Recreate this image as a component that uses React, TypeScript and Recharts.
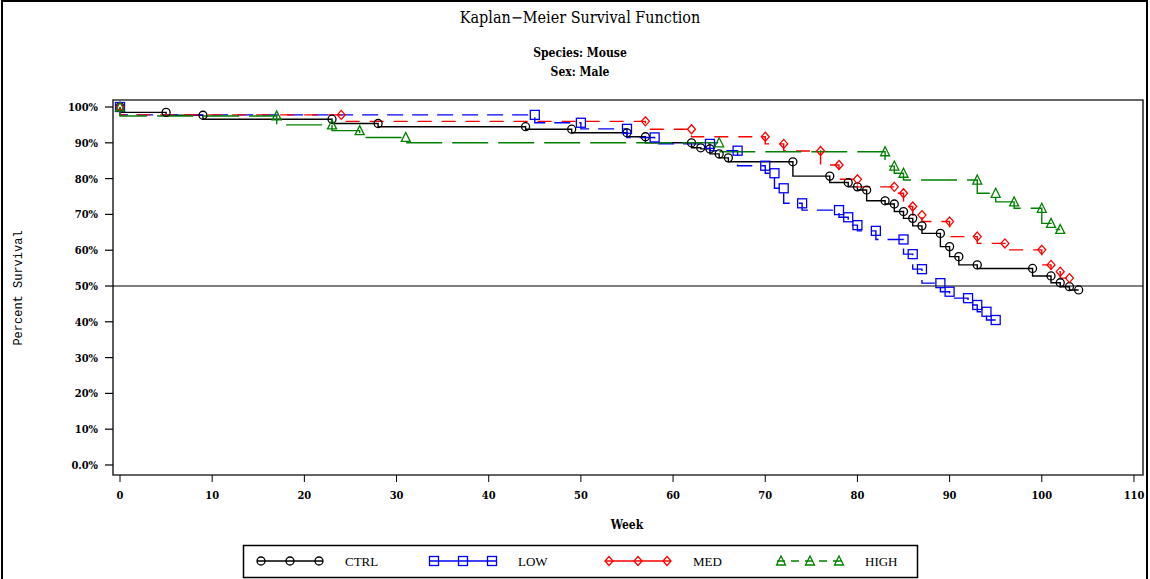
import React from 'react';
import { LineChart, Line, XAxis, YAxis, ReferenceLine, ReferenceArea } from 'recharts';

// Kaplan-Meier estimates (week, percent surviving)
const ctrlWeeks = [0, 5, 9, 23, 28, 44, 49, 55, 57, 62, 63, 64, 65, 66, 73, 77, 79, 80, 81, 83, 84, 85, 86, 87, 89, 90, 91, 93, 99, 101, 102, 103, 104];
const ctrlSurv = [100, 98.5, 97.7, 96.6, 95.4, 94.5, 93.8, 92.8, 91.7, 90.0, 88.6, 88.3, 86.9, 85.8, 84.7, 80.7, 78.9, 77.7, 76.8, 73.8, 72.9, 70.8, 68.9, 66.8, 64.7, 61.0, 58.2, 55.9, 54.9, 52.8, 50.9, 49.8, 48.9];

const lowWeeks = [0, 45, 50, 55, 58, 64, 67, 70, 71, 72, 74, 78, 79, 80, 82, 85, 86, 87, 89, 90, 92, 93, 94, 95];
const lowSurv = [100, 97.8, 95.6, 93.9, 91.5, 89.7, 87.8, 83.6, 81.5, 77.3, 73.1, 71.2, 69.2, 67.0, 65.4, 63.0, 58.9, 54.7, 50.8, 48.4, 46.6, 44.7, 42.8, 40.5];

const medWeeks = [0, 24, 57, 62, 70, 72, 76, 78, 80, 84, 85, 86, 87, 90, 93, 96, 100, 101, 102, 103];
const medSurv = [100, 97.8, 96.0, 93.8, 91.7, 89.7, 87.7, 83.8, 79.8, 77.7, 75.9, 72.2, 69.8, 68.0, 63.8, 61.9, 60.1, 55.9, 54.0, 52.2];

const highWeeks = [0, 17, 23, 26, 31, 65, 83, 84, 85, 93, 95, 97, 100, 101, 102];
const highSurv = [100, 97.5, 95.0, 93.4, 91.5, 90.0, 87.5, 83.5, 81.5, 79.6, 75.9, 73.5, 71.7, 67.5, 65.8];

const xTicks = [0, 10, 20, 30, 40, 50, 60, 70, 80, 90, 100, 110];
const yTicks = [0, 5, 10, 15, 20, 25, 30, 35, 40, 45, 50, 55, 60, 65, 70, 75, 80, 85, 90, 95, 100];

const X_DOMAIN = [-0.76, 110.98];
const Y_DOMAIN = [-2.8, 101.96];

const toRows = (weeks: number[], surv: number[]) => weeks.map((w, i) => ({ week: w, surv: surv[i] }));

const series = [
  { name: 'CTRL', data: toRows(ctrlWeeks, ctrlSurv), color: '#000000', dash: undefined, legendDash: undefined, kind: 'circle' },
  { name: 'LOW', data: toRows(lowWeeks, lowSurv), color: '#0000ff', dash: '16 9', legendDash: undefined, kind: 'square' },
  { name: 'MED', data: toRows(medWeeks, medSurv), color: '#ff0000', dash: '14 10', legendDash: undefined, kind: 'diamond' },
  { name: 'HIGH', data: toRows(highWeeks, highSurv), color: '#008000', dash: '36 10', legendDash: '8 6', kind: 'triangle' },
];

const tickFont = "'DejaVu Serif Condensed', 'DejaVu Serif', serif";

function Marker({ kind, cx, cy, color }: { kind: string; cx: number; cy: number; color: string }) {
  const sw = 1.3;
  if (kind === 'circle') return <circle cx={cx} cy={cy} r={4} fill="none" stroke={color} strokeWidth={sw} />;
  if (kind === 'square') return <rect x={cx - 4.5} y={cy - 4.5} width={9} height={9} fill="none" stroke={color} strokeWidth={sw} />;
  if (kind === 'diamond')
    return <polygon points={`${cx},${cy - 4.5} ${cx + 4},${cy} ${cx},${cy + 4.5} ${cx - 4},${cy}`} fill="none" stroke={color} strokeWidth={sw} />;
  return <polygon points={`${cx},${cy - 5} ${cx + 4.5},${cy + 4} ${cx - 4.5},${cy + 4}`} fill="none" stroke={color} strokeWidth={sw} />;
}

const YTick = (props: any) => {
  const { x, y, payload } = props;
  const v = payload.value;
  const major = v % 10 === 0;
  const label = v === 0 ? '0.0%' : `${v}%`;
  return (
    <g>
      <line x1={x - (major ? 8 : 4)} x2={x} y1={y} y2={y} stroke="#000" strokeWidth={1.2} />
      {major && (
        <text x={x - 15} y={y} dy={4} textAnchor="end" fontFamily={tickFont} fontWeight="bold" fontSize={11} fill="#000">
          {label}
        </text>
      )}
    </g>
  );
};

const XTick = (props: any) => {
  const { x, y, payload } = props;
  return (
    <text x={x} y={y} dy={11} textAnchor="middle" fontFamily={tickFont} fontWeight="bold" fontSize={11} fill="#000">
      {payload.value}
    </text>
  );
};

function LegendItem({ x, kind, color, dash, label }: any) {
  const cy = 561;
  const xs = [x + 4, x + 33, x + 62];
  return (
    <g>
      <line x1={x} x2={x + 66} y1={cy} y2={cy} stroke={color} strokeWidth={1.3} strokeDasharray={dash} />
      {xs.map((mx) => (
        <Marker key={mx} kind={kind} cx={mx} cy={cy} color={color} />
      ))}
      <text x={x + 88} y={cy + 5} fontFamily="'Liberation Serif', serif" fontSize={13} fill="#000">
        {label}
      </text>
    </g>
  );
}

export default function App() {
  const legendX = [257, 430, 605, 777];
  return (
    <div style={{ position: 'absolute', left: 0, top: 0, width: 1150, height: 579, background: '#fff', overflow: 'hidden' }}>
      <LineChart width={1150} height={579} margin={{ top: 100, right: 7, bottom: 74, left: 53 }}>
        <XAxis
          type="number"
          dataKey="week"
          domain={X_DOMAIN}
          ticks={xTicks}
          allowDataOverflow
          height={30}
          tickSize={7}
          tickMargin={6}
          axisLine={false}
          stroke="#000"
          tick={XTick}
        />
        <YAxis
          type="number"
          dataKey="surv"
          domain={Y_DOMAIN}
          ticks={yTicks}
          allowDataOverflow
          width={60}
          tickSize={0}
          tickMargin={0}
          tickLine={false}
          axisLine={false}
          tick={YTick}
        />
        <ReferenceArea x1={X_DOMAIN[0]} x2={X_DOMAIN[1]} y1={Y_DOMAIN[0]} y2={Y_DOMAIN[1]} fill="none" fillOpacity={0} stroke="#333" strokeWidth={1.6} strokeOpacity={1} />
        <ReferenceLine y={50} stroke="#000" strokeWidth={1.2} />
        {series.map((s) => (
          <Line
            key={s.name}
            data={s.data}
            dataKey="surv"
            name={s.name}
            type="stepBefore"
            stroke={s.color}
            strokeWidth={1.4}
            strokeDasharray={s.dash}
            isAnimationActive={false}
            activeDot={false}
            dot={(p: any) => <Marker key={`${s.name}-${p.index}`} kind={s.kind} cx={p.cx} cy={p.cy} color={s.color} />}
          />
        ))}
      </LineChart>
      <svg width={1150} height={579} style={{ position: 'absolute', left: 0, top: 0, pointerEvents: 'none' }}>
        <rect x={2} y={1} width={1145} height={600} fill="none" stroke="#000" strokeWidth={2} />
        <text x={580} y={23} textAnchor="middle" fontFamily={tickFont} fontSize={16} fill="#000">
          Kaplan−Meier Survival Function
        </text>
        <text x={580} y={57} textAnchor="middle" fontFamily={tickFont} fontWeight="bold" fontSize={12} fill="#000">
          Species: Mouse
        </text>
        <text x={580} y={76} textAnchor="middle" fontFamily={tickFont} fontWeight="bold" fontSize={12} fill="#000">
          Sex: Male
        </text>
        <text
          x={0}
          y={0}
          transform="translate(22,288) rotate(-90)"
          textAnchor="middle"
          fontFamily="'Liberation Mono', monospace"
          fontSize={12}
          fill="#000"
        >
          Percent Survival
        </text>
        <text x={627} y={529} textAnchor="middle" fontFamily={tickFont} fontWeight="bold" fontSize={12} fill="#000">
          Week
        </text>
        <rect x={243.5} y={545.5} width={674} height={32} fill="none" stroke="#000" strokeWidth={1.5} />
        {series.map((s, i) => (
          <LegendItem key={s.name} x={legendX[i]} kind={s.kind} color={s.color} dash={s.legendDash} label={s.name} />
        ))}
      </svg>
    </div>
  );
}
